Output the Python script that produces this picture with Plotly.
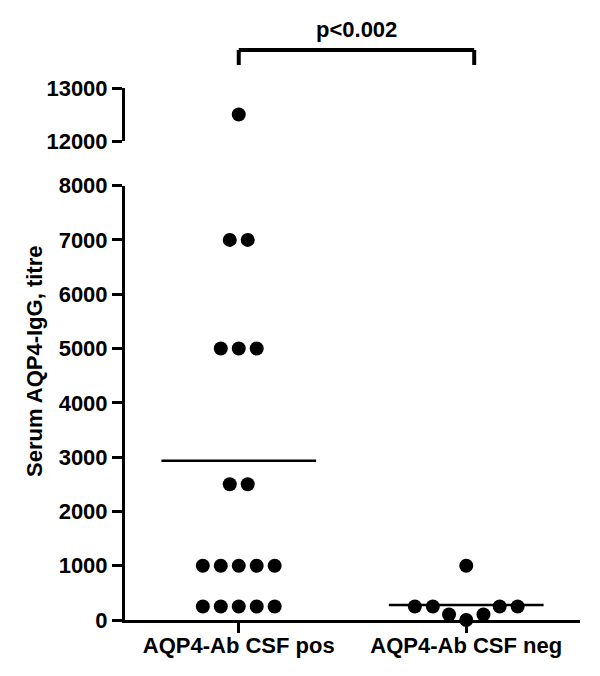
import plotly.graph_objects as go
import numpy as np

# data
categories = ["AQP4-Ab CSF pos", "AQP4-Ab CSF neg"]
pos_titres = [12500, 7000, 7000, 5000, 5000, 5000, 2500, 2500,
              1000, 1000, 1000, 1000, 1000, 250, 250, 250, 250, 250]
neg_titres = [1000, 250, 250, 250, 250, 100, 100, 0]
p_label = "p<0.002"
lower_ticks = [0, 1000, 2000, 3000, 4000, 5000, 6000, 7000, 8000]
upper_ticks = [12000, 13000]
y_title = "Serum AQP4-IgG, titre"

FONT = "Arial, Liberation Sans, sans-serif"
PX_PER_X = 228.0     # pixels per category unit
PX_PER_Y = 0.0543    # pixels per titre unit
DOT = 18.0           # min centre distance between dots, px


# simple beeswarm: rows placed bottom-up, symmetric around the category centre
def swarm(values, d=DOT):
    placed = []
    out = []

    def free(x, y):
        return all((x - px) ** 2 + (y - py) ** 2 >= (d - 0.01) ** 2 for px, py in placed)

    for v in sorted(set(values)):
        n = values.count(v)
        y = v * PX_PER_Y
        rem = n
        s = 0.0 if n % 2 else d / 2
        while rem > 0:
            if s == 0.0:
                if free(0.0, y):
                    placed.append((0.0, y)); out.append((0.0, v)); rem -= 1
                    s = d
                else:
                    s += 0.25
            elif rem == 1:
                if free(s, y):
                    placed.append((s, y)); out.append((s, v)); rem -= 1
                else:
                    s += 0.25
            elif free(s, y) and free(-s, y):
                placed += [(-s, y), (s, y)]
                out += [(-s, v), (s, v)]
                rem -= 2
                s += d
            else:
                s += 0.25
    return out


fig = go.Figure()

for i, vals in enumerate([pos_titres, neg_titres]):
    pts = swarm(vals)
    lo = [(i + o / PX_PER_X, v) for o, v in pts if v < 12000]
    hi = [(i + o / PX_PER_X, v) for o, v in pts if v >= 12000]
    mk = dict(color="black", size=14, line=dict(width=0))
    fig.add_trace(go.Scatter(x=[p[0] for p in lo], y=[p[1] for p in lo], mode="markers",
                             marker=mk, cliponaxis=False, yaxis="y"))
    if hi:
        fig.add_trace(go.Scatter(x=[p[0] for p in hi], y=[p[1] for p in hi], mode="markers",
                                 marker=mk, cliponaxis=False, yaxis="y2"))
    m = float(np.mean(vals))
    fig.add_trace(go.Scatter(x=[i - 0.34, i + 0.34], y=[m, m], mode="lines",
                             line=dict(color="black", width=2.5), yaxis="y"))

# plot area on the page: 125..580 px wide, 88..620 px tall
# (the page body adds an 8 px offset, so margins are 8 px smaller)
top, bottom = 88, 620
H = bottom - top
def paper_y(p):
    return (bottom - p) / H

axis_style = dict(showline=True, linecolor="black", linewidth=3, ticks="outside",
                  ticklen=10, tickwidth=3, tickcolor="black", showgrid=False,
                  zeroline=False, automargin=False, tickformat="d",
                  tickfont=dict(family=FONT, size=22, color="black", weight="bold"))

fig.update_layout(
    width=600, height=676,
    margin=dict(l=117, r=28, t=top - 8, b=676 - bottom + 8),
    plot_bgcolor="white", paper_bgcolor="white",
    showlegend=False,
    xaxis=dict(range=[-0.5, 1.5], tickvals=[0, 1], ticktext=categories,
               anchor="y", ticklabelstandoff=-6, **axis_style),
    yaxis=dict(range=[0, 8000], tickvals=lower_ticks, domain=[0, paper_y(185.6)],
               anchor="x", **axis_style),
    yaxis2=dict(range=[12000, 13000], tickvals=upper_ticks, domain=[paper_y(141), 1],
                anchor="x", **axis_style),
)

# significance bracket
for x0, y0, x1, y1 in [(0, 65, 0, 50), (0, 50, 1.035, 50), (1.035, 50, 1.035, 65)]:
    fig.add_shape(type="line", xref="x", yref="paper", x0=x0, x1=x1,
                  y0=paper_y(y0), y1=paper_y(y1), line=dict(color="black", width=4))

fig.add_annotation(x=0.5175, xref="x", y=paper_y(30), yref="paper", text=p_label,
                   showarrow=False, yanchor="middle",
                   font=dict(family=FONT, size=22, color="black", weight="bold"))

fig.add_annotation(x=(34 - 125) / 455, xref="paper", y=paper_y(362), yref="paper",
                   text=y_title, textangle=-90, showarrow=False,
                   xanchor="center", yanchor="middle",
                   font=dict(family=FONT, size=22, color="black", weight="bold"))

fig.write_html("out.html")
